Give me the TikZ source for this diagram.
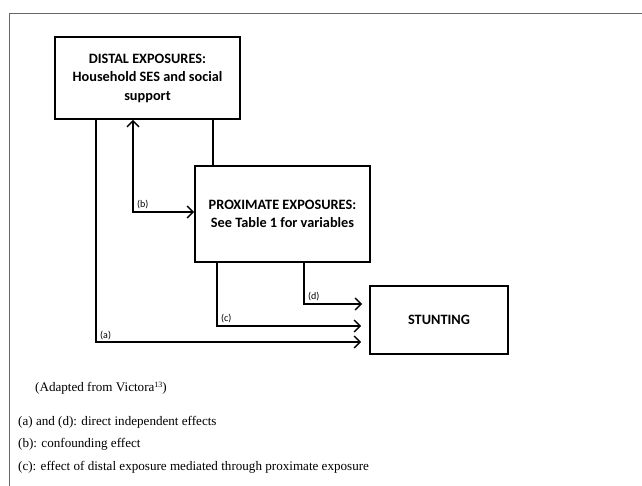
\documentclass[tikz,border=0pt]{standalone}
\usepackage{fontspec}
\setmainfont{Liberation Serif}
\newfontfamily\boxfont{Carlito}
\usetikzlibrary{arrows.meta}
\begin{document}
\begin{tikzpicture}[x=1pt,y=-1pt,
  box/.style={draw,line width=1.8pt,inner sep=0pt,align=center,font=\boxfont\bfseries\fontsize{14.3}{18.5}\selectfont},
  conn/.style={line width=1.4pt},
  tip/.tip={Straight Barb[length=6pt,width=12pt,line width=1.4pt]},
  arr/.style={conn,-tip},
  lab/.style={font=\boxfont\fontsize{10}{11}\selectfont,inner sep=0pt,anchor=south west},
  note/.style={font=\fontsize{13.1}{14}\selectfont,inner sep=0pt,anchor=west}]
\useasboundingbox (0,0) rectangle (642,486);
\fill[white] (0,0) rectangle (642,486);
\draw[line width=1pt,black!60] (9,486) -- (9,14) -- (642,14);
\node[box,minimum width=185pt,minimum height=82pt] (distal) at (147.5,78)
  {DISTAL EXPOSURES:\\Household SES and social\\support};
\node[box,minimum width=175pt,minimum height=96pt] (prox) at (282.5,214)
  {PROXIMATE EXPOSURES:\\See Table 1 for variables};
\node[box,minimum width=138pt,minimum height=68pt] (stunt) at (439,320) {STUNTING};
\coordinate (aEnd) at (361,342);
\coordinate (bEnd) at (prox.west |- 0,212);
\coordinate (cEnd) at (361,326);
\coordinate (dEnd) at (362,304);
\draw[arr] ([xshift=-51.5pt]distal.south) |- (aEnd);
\draw[conn,tip-tip] ([xshift=-14.5pt]distal.south) |- (bEnd);
\draw[conn] ([xshift=65.5pt]distal.south) -- ([xshift=65.5pt]distal.south |- prox.north);
\draw[arr] ([xshift=-65.5pt]prox.south) |- (cEnd);
\draw[arr] ([xshift=21.5pt]prox.south) |- (dEnd);
\node[lab] (la) at (100,340) {(a)};
\node[lab] (lb) at (137,209) {(b)};
\node[lab] (lc) at (221,323) {(c)};
\node[lab] (ld) at (308,301) {(d)};
\node[note] (n0) at (35,388) {(Adapted from Victora{\fontsize{8}{8}\selectfont\raisebox{4.5pt}{13}})};
\node[note] (n1) at (18,422) {(a) and (d): direct independent effects};
\node[note] (n2) at (18,444) {(b): confounding effect};
\node[note] (n3) at (18,467) {(c): effect of distal exposure mediated through proximate exposure};
\end{tikzpicture}
\end{document}
